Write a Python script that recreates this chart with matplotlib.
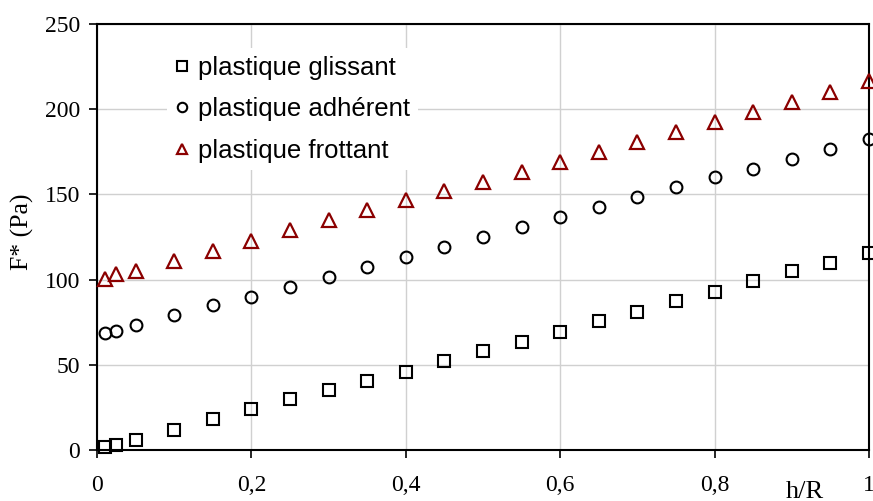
import matplotlib
matplotlib.use("Agg")
import matplotlib.pyplot as plt

x = [0.01, 0.025, 0.05, 0.1, 0.15, 0.2, 0.25, 0.3, 0.35, 0.4, 0.45, 0.5,
     0.55, 0.6, 0.65, 0.7, 0.75, 0.8, 0.85, 0.9, 0.95, 1.0]
glissant = [1.5, 3, 6, 12, 18, 24, 30, 35.5, 40.5, 46, 52, 58,
            63.5, 69.5, 75.5, 81, 87.5, 93, 99, 105, 110, 115.5]
adherent = [68.7, 69.8, 73.4, 79.2, 85, 89.8, 95.7, 101.5, 107.4, 113.3, 119.1, 125,
            130.8, 136.7, 142.6, 148.5, 154.3, 160.2, 164.9, 170.8, 176.6, 182.5]
frottant = [100.3, 103, 105, 111, 117, 122.7, 129, 135, 141, 146.7, 152, 157.3,
            163, 169, 175, 180.7, 186.6, 192.5, 198.4, 204.2, 210, 216.5]
labels = ["plastique glissant", "plastique adhérent", "plastique frottant"]
xticks = [0, 0.2, 0.4, 0.6, 0.8, 1.0]
xticklabels = ["0", "0,2", "0,4", "0,6", "0,8", "1"]
yticks = [0, 50, 100, 150, 200, 250]

fig = plt.figure(figsize=(8.73, 5.01), dpi=100)
ax = fig.add_axes([97/873, 1-450/501, 772/873, 426/501])

red = "#8b0000"
ax.plot(x, glissant, linestyle="none", marker="s", ms=8.5, mfc="none", mec="black", mew=1.5,
        label=labels[0], clip_on=False, zorder=3)
ax.plot(x, adherent, linestyle="none", marker="o", ms=8.5, mfc="none", mec="black", mew=1.5,
        label=labels[1], clip_on=False, zorder=3)
ax.plot(x, frottant, linestyle="none", marker="^", ms=9.5, mfc="none", mec=red, mew=1.6,
        label=labels[2], clip_on=False, zorder=3)

ax.set_xlim(0, 1)
ax.set_ylim(0, 250)
ax.set_xticks(xticks)
ax.set_xticklabels(xticklabels)
ax.set_yticks(yticks)
ax.grid(True, color="#d0d0d0", linewidth=1.0)
ax.set_axisbelow(True)
for s in ax.spines.values():
    s.set_linewidth(1.5)
    s.set_color("black")
ax.tick_params(direction="out", length=6, width=1.2, labelsize=17)
for lab in ax.get_xticklabels() + ax.get_yticklabels():
    lab.set_fontfamily("Liberation Serif")
ax.tick_params(axis="y", pad=6)
ax.tick_params(axis="x", pad=12)

fig.text(805/873, 1-481/501, "h/R", fontsize=19, family="Liberation Serif", ha="center", va="top")
fig.text(22/873, 1-232/501, "F* (Pa)", fontsize=18.5, family="Liberation Serif",
         ha="center", va="center", rotation=90)

leg = ax.legend(loc="upper left", bbox_to_anchor=((167-97)/772, (450-48)/426),
                frameon=True, fancybox=False, edgecolor="none", facecolor="white", framealpha=1,
                prop={"family": "Liberation Sans", "size": 18.5}, markerscale=0.8,
                handlelength=0.6, handletextpad=0.3, labelspacing=0.68,
                borderpad=0.3, borderaxespad=0)
fig.savefig("out.png", dpi=100)
